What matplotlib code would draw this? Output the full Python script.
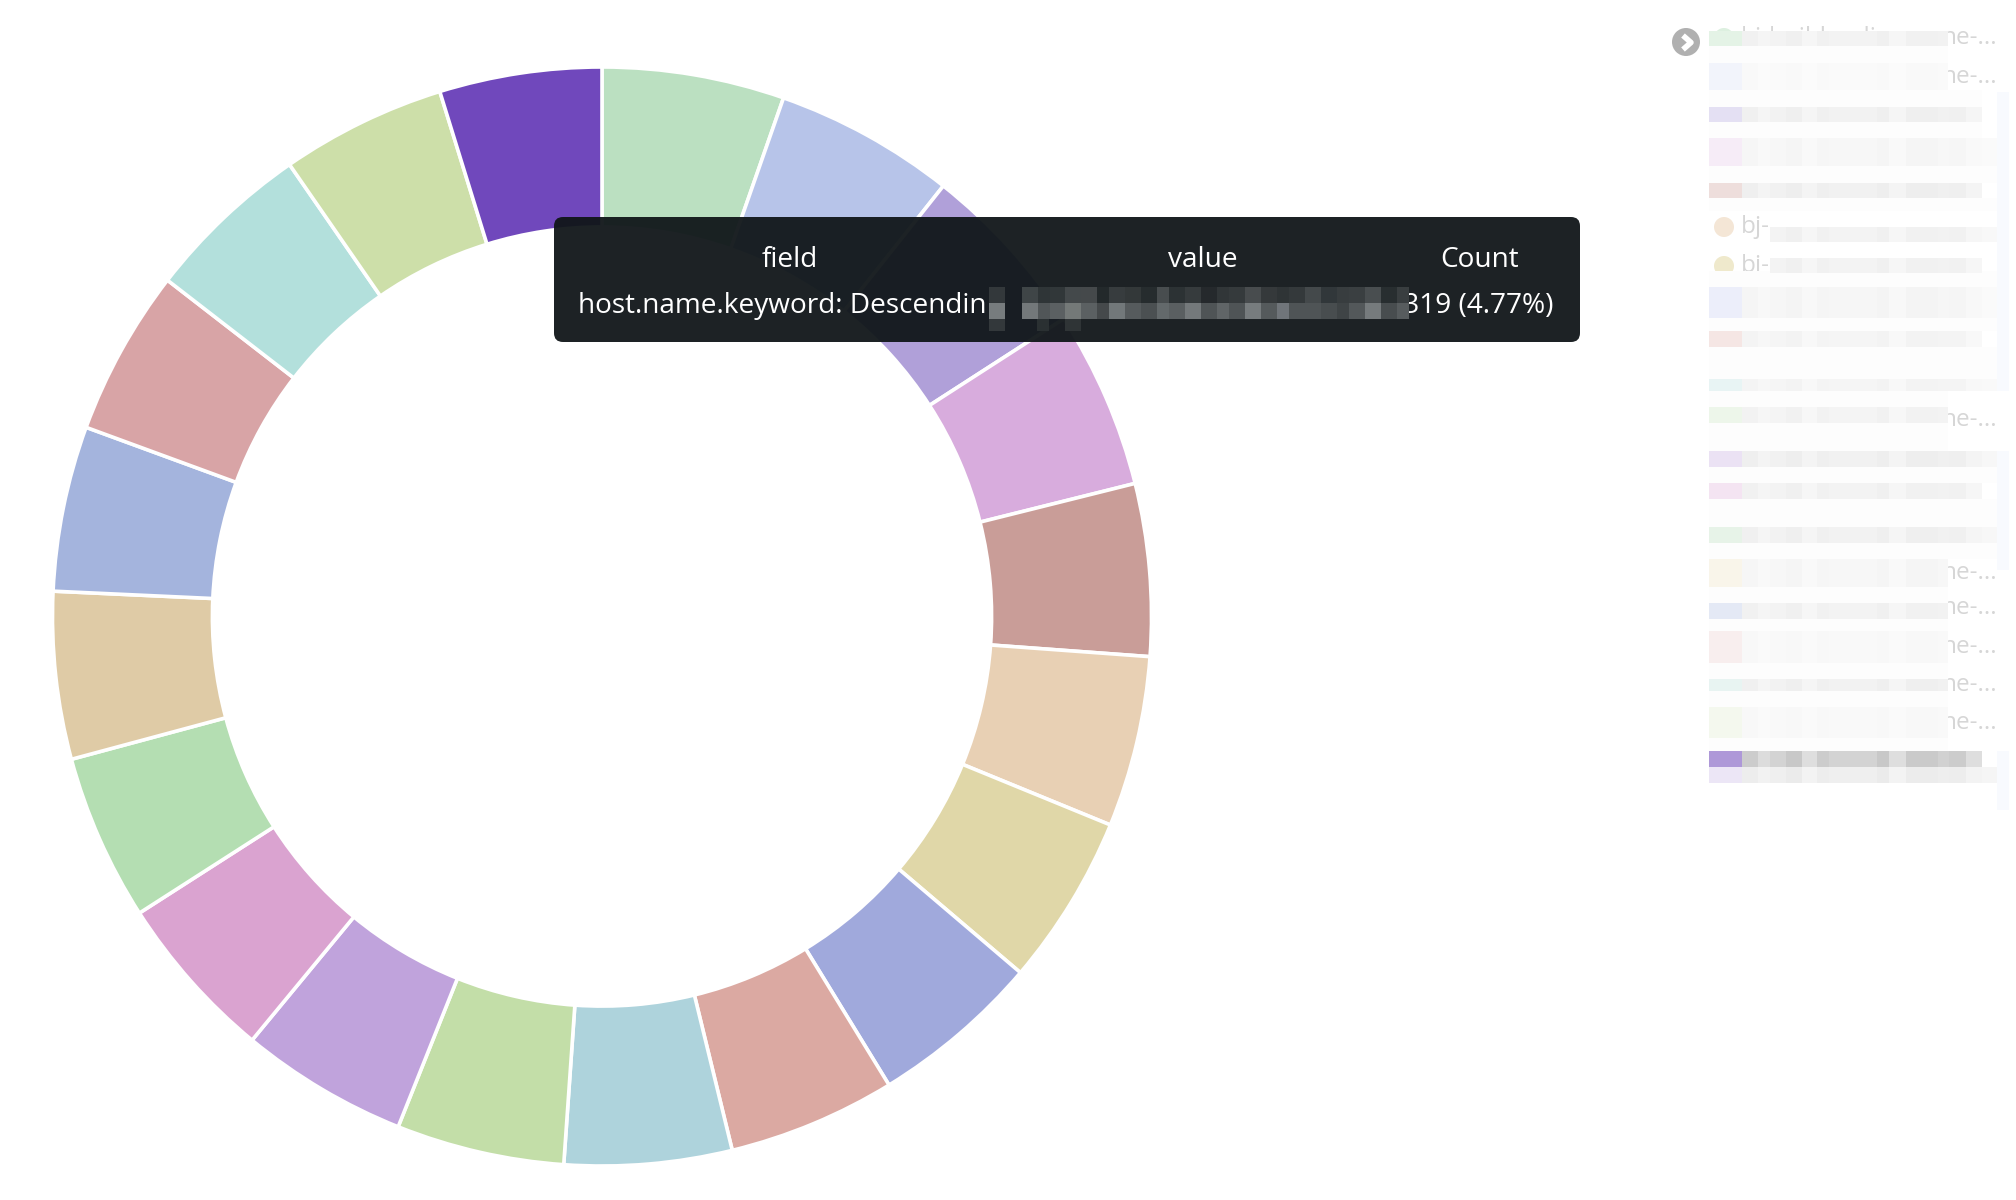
import matplotlib
matplotlib.use('Agg')
import matplotlib.pyplot as plt
from matplotlib.colors import to_hex, to_rgb
from matplotlib.patches import Circle, FancyBboxPatch, Rectangle

# share of each host, clockwise from 12 o'clock
shares = [5.36, 5.31, 5.22, 5.22, 5.06, 5.03, 5.03, 5.03, 4.94, 4.92,
          4.94, 4.94, 4.94, 4.89, 4.92, 4.86, 4.89, 4.89, 4.86, 4.77]
ring_colors = ['#BBE0C1', '#B7C4E9', '#B0A0D9', '#D8ACDD', '#C99D98',
               '#E8D0B4', '#E0D7A8', '#A0A9DC', '#DBA9A2', '#AED3DC',
               '#C3DEA8', '#C0A3DC', '#DAA3D0', '#B4DEB2', '#DFCBA6',
               '#A4B4DD', '#D8A4A6', '#B3E0DC', '#CDDFA9', '#7048BC']

W, H = 2016, 1200
fig = plt.figure(figsize=(W / 100, H / 100), dpi=100, facecolor='white')
plt.rcParams['font.family'] = ['Open Sans', 'DejaVu Sans']

# donut
cx, cy, r = 602, 616.5, 549.5
ax = fig.add_axes([(cx - r) / W, (H - cy - r) / H, 2 * r / W, 2 * r / H])
ax.pie(shares, colors=ring_colors, startangle=90, counterclock=False, radius=1,
       wedgeprops={'width': 0.291, 'edgecolor': 'white', 'linewidth': 2.6})
ax.set_xlim(-1, 1)
ax.set_ylim(-1, 1)

# overlay in pixel coords for tooltip + legend
ov = fig.add_axes([0, 0, 1, 1], facecolor='none')
ov.set_xlim(0, W)
ov.set_ylim(H, 0)
ov.axis('off')

# tooltip
ov.add_patch(FancyBboxPatch((554, 217), 1026, 125, boxstyle='round,pad=0,rounding_size=9',
                            fc='#101619', ec='none', alpha=0.95))
tip_color = 'white'
ov.text(790, 260, 'field', color=tip_color, fontsize=20.2, ha='center', va='center')
ov.text(1203, 260, 'value', color=tip_color, fontsize=20.2, ha='center', va='center')
ov.text(1480, 260, 'Count', color=tip_color, fontsize=20.2, ha='center', va='center')
ov.text(578, 306, 'host.name.keyword: Descendin', color=tip_color, fontsize=20.2, ha='left', va='center')
ov.text(1554, 306, '5,319 (4.77%)', color=tip_color, fontsize=20.2, ha='right', va='center')

# blurred part of the tooltip row
mosaic_edges = [155, 203, 240, 285, 333, 381, 418, 466, 514, 562, 597, 645, 693, 741,
                778, 826, 874, 922, 958, 1006, 1054, 1102, 1138, 1186, 1234, 1282, 1318]
mosaic_top = ['#3F4547', '#2F3537', '#313739', '#44494B', '#45494B', '#23292B', '#373C3E',
              '#333839', '#262C2E', '#484D4F', '#2C3234', '#363B3D', '#25292C', '#313638',
              '#353A3C', '#484C4E', '#35393B', '#2F3436', '#34393B', '#44494B', '#31373A',
              '#383D3F', '#3A3F41', '#494E50', '#282E30', '#393E40']
mosaic_bottom = ['#73787A', '#515658', '#5B6062', '#747978', '#5B6062', '#45494B', '#72787A',
                 '#565B5D', '#4B5052', '#63696B', '#5A5F61', '#74797B', '#4F5456', '#606567',
                 '#4F5456', '#777C7E', '#555A5C', '#70757A', '#4F5456', '#4F5456', '#484D4F',
                 '#3F4446', '#53585A', '#767B7D', '#484D4F', '#575C5E']
for i in range(len(mosaic_top)):
    x0 = 970 + mosaic_edges[i] / 3
    w = (mosaic_edges[i + 1] - mosaic_edges[i]) / 3
    ov.add_patch(Rectangle((x0, 287), w, 16, fc=mosaic_top[i], ec='none', zorder=4))
    ov.add_patch(Rectangle((x0, 303), w, 16, fc=mosaic_bottom[i], ec='none', zorder=4))
ov.add_patch(Rectangle((989, 287), 16, 16, fc='#33383B', ec='none', zorder=4))
ov.add_patch(Rectangle((989, 303), 16, 16, fc='#777C7E', ec='none', zorder=4))
ov.add_patch(Rectangle((989, 319), 16, 12, fc='#33383B', ec='none', zorder=4))
ov.add_patch(Rectangle((1037, 319), 12, 12, fc='#2A3032', ec='none', zorder=4))
ov.add_patch(Rectangle((1065, 319), 16, 12, fc='#2F3436', ec='none', zorder=4))

# legend: blurred rows (y0, y1, swatch, strip colour, strip end)
legend_rows = [
    (31, 46, '#E4F3E6', '#F3F3F3', 1948),
    (63, 90, '#F2F4FB', '#FAFAFA', 1948),
    (107, 122, '#E4E0F3', '#F2F2F2', 1982),
    (138, 166, '#F6ECF7', '#F7F7F7', 1997),
    (183, 198, '#EEDEDC', '#F1F1F1', 1982),
    (287, 318, '#ECEEFA', '#F6F6F6', 1997),
    (331, 347, '#F5E6E4', '#F5F5F5', 1982),
    (379, 391, '#E8F4F4', '#F5F5F5', 1997),
    (407, 423, '#EDF6EA', '#F4F4F4', 1948),
    (451, 467, '#EBE2F4', '#F1F1F1', 1997),
    (483, 499, '#F4E4F2', '#F3F3F3', 1982),
    (527, 543, '#E7F3E8', '#F2F2F2', 1997),
    (559, 587, '#F9F5EA', '#F7F7F7', 1948),
    (603, 619, '#E4E9F5', '#F3F3F3', 1948),
    (631, 663, '#F8EEEE', '#F9F9F9', 1948),
    (679, 691, '#E8F4F2', '#F2F2F2', 1948),
    (707, 738, '#F4F8EE', '#F9F9F9', 1948),
    (751, 767, '#AE98D8', '#D3D3D3', 1982),
    (767, 783, '#ECE6F6', '#EFEFEF', 1997),
]
# columns of the blur, with how dark each one is against the row's strip colour
blur_edges = [1742, 1758, 1770, 1786, 1802, 1817, 1829, 1845, 1862, 1877, 1889, 1906,
              1922, 1938, 1949, 1966, 1982, 1997]
blur_weight = [1.15, 0.8, 1.0, 1.25, 0.75, 1.15, 1.0, 1.0, 1.0, 1.25, 0.75, 1.2,
               1.2, 1.05, 1.15, 0.75, 0.6]


def shaded(color, k):
    return to_hex([min(1, 1 - (1 - c) * k) for c in to_rgb(color)])


# near-white bands behind and between the rows
faint_bands = [(46, 63, 1948), (90, 107, 1982), (122, 138, 1982), (166, 183, 1997), (198, 211, 1997),
               (271, 287, 1997), (318, 331, 1997), (347, 379, 1997), (391, 407, 1948),
               (423, 451, 1948), (467, 483, 1997), (499, 527, 1997), (543, 559, 1997),
               (587, 603, 1948), (619, 631, 1948), (663, 679, 1948), (691, 707, 1948),
               (738, 751, 1948)]
for y0, y1, end in faint_bands:
    ov.add_patch(Rectangle((1709, y0), end - 1709, y1 - y0, fc='#FDFDFD', ec='none', zorder=3))

for y0, y1, swatch, strip, end in legend_rows:
    ov.add_patch(Rectangle((1709, y0), 33, y1 - y0, fc=swatch, ec='none', zorder=3))
    for i in range(len(blur_weight)):
        if blur_edges[i] >= end:
            break
        x1 = min(blur_edges[i + 1], end)
        ov.add_patch(Rectangle((blur_edges[i], y0), x1 - blur_edges[i], y1 - y0,
                               fc=shaded(strip, blur_weight[i]), ec='none', zorder=3))

ov.add_patch(Circle((1724, 38), 10, fc='#DDF0E0', ec='none', zorder=2))
ov.text(1741, 38, 'bj-build-online', color='#D6D6D6', fontsize=17.5, ha='left', va='center', zorder=2)
for y in [38, 77, 420, 573, 608, 647, 685, 723]:
    ov.text(1997, y, 'ne-...', color='#D6D6D6', fontsize=17.5, ha='right', va='center', zorder=2)

# the two legend entries left visible
for y, c, y0, end in [(227, '#F4E6D6', 227, 1997), (266, '#EFE9CC', 258, 1982)]:
    ov.add_patch(Circle((1724, y), 10, fc=c, ec='none', zorder=2))
    ov.text(1741, y, 'bj-', color='#D6D6D6', fontsize=17.5, ha='left', va='center', zorder=2)
    for i in range(2, len(blur_weight)):
        if blur_edges[i] >= end:
            break
        x1 = min(blur_edges[i + 1], end)
        ov.add_patch(Rectangle((blur_edges[i], y0), x1 - blur_edges[i], 15,
                               fc=shaded('#F3F3F3', blur_weight[i]), ec='none', zorder=3))

# faint scroll strip
for y0, y1 in [(92, 391), (451, 570), (751, 810)]:
    ov.add_patch(Rectangle((1997, y0), 12, y1 - y0, fc='#F8FAFE', ec='none', zorder=1))

# pager arrow
ov.add_patch(Circle((1686, 42), 14, fc='#B0B0B0', ec='none', zorder=5))
ov.plot([1683, 1691, 1683], [35.5, 42.5, 49.5], color='white', lw=4, zorder=6, solid_capstyle='butt')

fig.savefig('out.png', dpi=100)
